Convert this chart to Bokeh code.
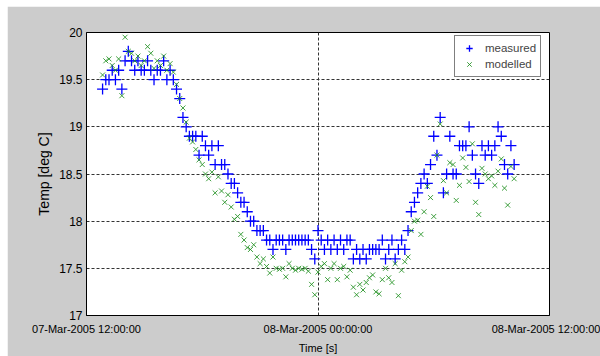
import pandas as pd
from bokeh.plotting import figure
from bokeh.layouts import column, row
from bokeh.models import (FixedTicker, DatetimeTickFormatter, Range1d, Legend,
                          LegendItem, Spacer)
from bokeh.embed import file_html
from bokeh.resources import INLINE

# ---- data ----
series_start = "2005-03-07 12:50:00"
step_minutes = 10

measured = [
    19.4, 19.5, 19.5, 19.6, 19.5, 19.6, 19.4, 19.7, 19.8, 19.7,
    19.6, 19.7, 19.6, 19.6, 19.7, 19.6, 19.5, 19.6, 19.6, 19.7,
    19.5, 19.6, 19.5, 19.4, 19.3, 19.1, 19.0, 18.9, 18.9, 18.9,
    18.7, 18.9, 18.8, 18.7, 18.8, 18.6, 18.8, 18.6, 18.6, 18.5,
    18.4, 18.4, 18.3, 18.2, 18.2, 18.1, 18.0, 18.0, 17.9, 17.9,
    17.9, 17.8, 17.8, 17.7, 17.8, 17.8, 17.8, 17.7, 17.8, 17.8,
    17.8, 17.8, 17.8, 17.8, 17.8, 17.7, 17.6, 17.9, 17.8, 17.7,
    17.8, 17.7, 17.8, 17.7, 17.8, 17.7, 17.8, 17.8, 17.6, 17.7,
    17.6, 17.7, 17.6, 17.7, 17.7, 17.7, 17.7, 17.8, 17.6, 17.7,
    17.8, 17.6, 17.7, 17.8, 17.7, 17.9, 18.1, 18.2, 18.3, 18.4,
    18.5, 18.4, 18.6, 18.9, 18.7, 19.1, 18.3, 18.5, 18.9, 18.5,
    18.5, 18.8, 18.8, 18.8, 19.0, 18.7, 18.5, 18.4, 18.8, 18.7,
    18.8, 18.7, 18.8, 19.0, 18.9, 18.6, 18.5, 18.8, 18.6,
]

modelled = [
    19.55, 19.70, 19.72, 19.65, 19.60, 19.72, 19.33, 19.95, 19.80, 19.78,
    19.70, 19.75, 19.65, 19.70, 19.85, 19.78, 19.62, 19.70, 19.65, 19.75,
    19.60, 19.67, 19.58, 19.45, 19.30, 19.20, 19.05, 18.88, 18.84, 18.76,
    18.65, 18.60, 18.50, 18.45, 18.52, 18.30, 18.47, 18.32, 18.20, 18.28,
    18.15, 18.02, 18.05, 17.86, 17.80, 17.72, 17.70, 17.75, 17.62, 17.55,
    17.60, 17.52, 17.45, 17.62, 17.50, 17.49, 17.50, 17.41, 17.55, 17.50,
    17.48, 17.50, 17.49, 17.50, 17.47, 17.33, 17.22, 17.46, 17.52, 17.55,
    17.38, 17.50, 17.55, 17.38, 17.50, 17.52, 17.41, 17.48, 17.30, 17.22,
    17.33, 17.27, 17.35, 17.40, 17.43, 17.25, 17.23, 17.38, 17.50, 17.40,
    17.35, 17.55, 17.21, 17.48, 17.57, 17.62, 17.90, 18.00, 18.01, 17.86,
    18.10, 18.37, 18.25, 18.05, 18.70, 19.03, 18.43, 18.30, 18.62, 18.60,
    18.22, 18.38, 18.67, 18.57, 18.42, 18.82, 18.20, 18.07, 18.56, 18.50,
    18.45, 18.48, 18.38, 18.53, 18.66, 18.35, 18.17, 18.58, 18.45,
]

x_tick_times = ["2005-03-07 12:00:00", "2005-03-08 00:00:00", "2005-03-08 12:00:00"]
y_ticks = [17, 17.5, 18, 18.5, 19, 19.5, 20]
y_tick_labels = ["17", "17.5", "18", "18.5", "19", "19.5", "20"]
series_names = ["measured", "modelled"]

# ---- build ----
times = pd.date_range(series_start, periods=len(measured), freq=f"{step_minutes}min")
x_ticks_ms = [pd.Timestamp(t).value / 1e6 for t in x_tick_times]

FONT = "Liberation Sans"

p = figure(width=593, height=350, output_backend="svg", toolbar_location=None,
           x_axis_type="datetime",
           x_range=Range1d(x_ticks_ms[0], x_ticks_ms[-1]),
           y_range=Range1d(y_ticks[0], y_ticks[-1]),
           min_border_left=79, min_border_top=26, min_border_right=51,
           min_border_bottom=37)

p.border_fill_color = "#cccccc"
p.background_fill_color = "#ffffff"
p.outline_line_color = "#000000"
p.outline_line_width = 1

r1 = p.scatter(times, measured, marker="cross", size=11, line_color="#0000ff",
               line_width=1.3)
r2 = p.scatter(times, modelled, marker="x", size=7, line_color="#1f8f1f",
               line_width=1, line_alpha=0.85)

fmt = "%d-%b-%Y %H:%M:%S"
p.xaxis.ticker = FixedTicker(ticks=x_ticks_ms)
p.xaxis.formatter = DatetimeTickFormatter(
    microseconds=fmt, milliseconds=fmt, seconds=fmt, minsec=fmt, minutes=fmt,
    hourmin=fmt, hours=fmt, days=fmt, months=fmt, years=fmt)
p.yaxis.ticker = FixedTicker(ticks=y_ticks)
p.yaxis.major_label_overrides = {t: s for t, s in zip(y_ticks, y_tick_labels)}

for ax in (p.xaxis[0], p.yaxis[0]):
    ax.axis_line_color = "#000000"
    ax.major_tick_in = 0
    ax.major_tick_out = 0
    ax.minor_tick_line_color = None
    ax.major_label_text_font = FONT
    ax.major_label_text_color = "#000000"
    ax.axis_label_text_font = FONT
    ax.axis_label_text_font_style = "normal"
    ax.axis_label_text_color = "#000000"

p.xaxis.major_label_text_font_size = "11px"
p.xaxis.axis_label = "Time [s]"
p.xaxis.axis_label_text_font_size = "11px"
p.xaxis.major_label_standoff = 7
p.xaxis.axis_label_standoff = 4

p.yaxis.major_label_text_font_size = "12px"
p.yaxis.axis_label = "Temp [deg C]"
p.yaxis.axis_label_text_font_size = "14px"
p.yaxis.major_label_standoff = 4
p.yaxis.axis_label_standoff = 4

for g in (p.xgrid[0], p.ygrid[0]):
    g.grid_line_color = "#333333"
    g.grid_line_dash = "3 2"
    g.grid_line_width = 1
p.xgrid.ticker = FixedTicker(ticks=x_ticks_ms)
p.ygrid.ticker = FixedTicker(ticks=y_ticks)

legend = Legend(items=[LegendItem(label=series_names[0], renderers=[r1]),
                       LegendItem(label=series_names[1], renderers=[r2])],
                location=(368, 238))
legend.margin = 0
legend.padding = 4
legend.spacing = 0
legend.glyph_width = 20
legend.glyph_height = 16
legend.label_height = 16
legend.label_standoff = 6
legend.label_text_font = FONT
legend.label_text_font_size = "11.5px"
legend.border_line_color = "#000000"
legend.border_line_width = 1
legend.background_fill_color = "#ffffff"
legend.background_fill_alpha = 1
p.add_layout(legend)

page = column(Spacer(height=6, width=600),
              row(Spacer(width=7, height=350), p, spacing=0),
              spacing=0)

open("out.html", "w").write(file_html(page, INLINE))
